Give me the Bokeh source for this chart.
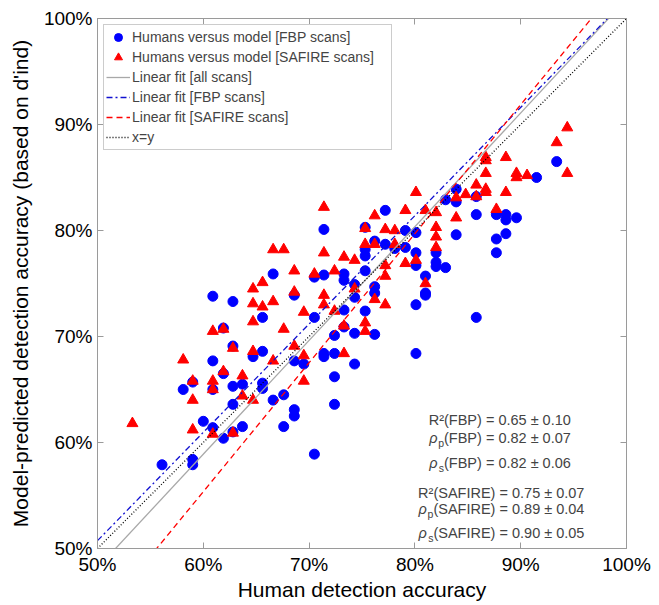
from bokeh.plotting import figure
from bokeh.models import (ColumnDataSource, Label, LinearAxis, FixedTicker,
                          PrintfTickFormatter, Range1d, Legend, LegendItem)
from bokeh.embed import file_html
from bokeh.resources import INLINE

# ---------------- data ----------------
fbp_x = [56.1, 58.1, 59.0, 59.0, 59.0, 60.0,
         60.9, 60.9, 60.9, 60.9, 61.9, 61.9, 61.9,
         62.8, 62.8, 62.8, 62.8, 62.8, 63.7, 63.7, 64.7,
         65.6, 65.6, 65.6, 65.6, 66.6, 66.6, 67.6, 67.6,
         68.6, 68.6, 68.6, 68.6, 69.5, 70.5, 70.5, 70.5,
         71.4, 71.4, 71.4, 71.4, 72.4, 72.4, 72.4, 72.4,
         73.3, 73.3, 73.3, 73.3, 74.3, 74.3, 74.3, 74.3,
         75.3, 75.3, 75.3, 75.3, 75.3, 76.2, 76.2, 76.2, 76.2,
         77.2, 77.2, 78.1, 79.1, 79.1,
         80.1, 80.1, 80.1, 80.1, 80.1, 81.0, 81.0, 81.0,
         82.0, 82.0, 82.0, 82.9, 82.9, 83.9, 83.9, 83.9,
         85.8, 85.8, 85.8, 87.7, 87.7, 87.7, 88.6, 88.6, 88.6,
         89.6, 91.5, 93.4]
fbp_y = [57.9, 65.0, 65.7, 58.4, 57.9, 62.0,
         73.8, 67.7, 65.0, 61.4, 70.8, 66.5, 60.4,
         73.3, 69.1, 65.3, 63.6, 61.0, 65.5, 61.5, 68.1,
         71.8, 68.6, 65.6, 65.1, 75.9, 64.0, 64.5, 61.5,
         73.9, 67.7, 63.1, 62.5, 67.4, 75.6, 71.8, 58.9,
         80.1, 75.8, 68.4, 68.1, 70.1, 68.4, 66.2, 63.6,
         75.9, 75.3, 72.5, 70.9, 74.9, 73.7, 70.3, 67.4,
         80.3, 78.2, 77.6, 76.2, 72.4, 79.0, 74.7, 74.1, 70.2,
         81.9, 78.7, 78.3, 80.0, 78.4,
         79.8, 77.9, 76.7, 73.0, 68.4, 75.7, 74.1, 73.9,
         77.9, 77.0, 76.6, 82.9, 76.5, 83.9, 82.7, 79.6,
         83.2, 81.5, 71.8, 81.5, 79.2, 77.9, 81.5, 81.0, 79.7,
         81.2, 85.0, 86.5]

saf_x = [53.3, 58.1, 59.0, 59.0, 59.0,
         60.9, 60.9, 60.9, 60.9, 61.9, 61.9, 62.8, 62.8, 63.7, 63.7,
         64.7, 64.7, 64.7, 64.7, 64.7, 65.6, 65.6, 66.6, 66.6, 66.6,
         67.6, 67.6, 68.6, 68.6, 68.6, 69.5, 69.5, 69.5, 70.5,
         71.4, 71.4, 71.4, 71.4, 72.4, 72.4, 73.3, 73.3, 73.3,
         74.3, 74.3, 75.3, 75.3, 75.3, 75.3, 76.2, 76.2, 76.2,
         77.2, 77.2, 77.2, 77.2, 78.1, 78.1, 79.1, 79.1, 80.1, 80.1,
         81.0, 81.0, 82.0, 82.0, 82.0, 82.0, 83.9, 83.9, 84.8,
         85.8, 85.8, 86.7, 86.7, 86.7, 86.7, 86.7, 87.7, 88.6, 88.6,
         89.6, 89.6, 90.6, 93.4, 94.4, 94.4]
saf_y = [61.8, 67.8, 65.8, 64.0, 61.2,
         70.5, 65.8, 65.0, 60.8, 70.7, 66.7, 68.9, 60.9, 66.3, 64.4,
         74.5, 73.1, 71.4, 68.6, 64.0, 75.1, 72.8, 78.2, 73.3, 67.7,
         78.2, 70.7, 76.2, 74.2, 69.1, 72.3, 68.2, 65.8, 75.9,
         82.2, 77.9, 73.9, 73.0, 76.2, 72.4, 77.5, 71.0, 68.4,
         77.2, 74.5, 80.2, 78.7, 71.3, 70.5, 81.4, 78.7, 73.5,
         80.1, 76.7, 75.7, 73.0, 80.0, 78.7, 81.9, 76.9, 83.6, 77.2,
         81.9, 75.0, 81.7, 80.3, 79.4, 78.4, 83.1, 81.2, 83.4,
         84.3, 83.2, 86.9, 86.6, 85.4, 83.9, 83.6, 82.0, 86.9, 83.6,
         85.4, 85.0, 85.2, 88.3, 89.7, 85.4]

# linear fits: [all scans, FBP, SAFIRE]
fit_slope = [1.073, 1.022, 1.217]
fit_intercept = [-5.48, -0.36, -17.66]
fit_span = [50, 100]

ticks = [50, 60, 70, 80, 90, 100]
stat_names = ["FBP", "SAFIRE"]
stat_r2 = ["0.65 ± 0.10", "0.75 ± 0.07"]
stat_rp = ["0.82 ± 0.07", "0.89 ± 0.04"]
stat_rs = ["0.82 ± 0.06", "0.90 ± 0.05"]

FONT = "Liberation Sans"
AXC = "#9a9a9a"

p = figure(frame_width=529, frame_height=530,
           min_border_left=97, min_border_right=30, min_border_top=18,
           min_border_bottom=40,
           x_range=Range1d(50, 100), y_range=Range1d(50, 100),
           output_backend="svg", toolbar_location=None)
p.xgrid.visible = False
p.ygrid.visible = False
p.outline_line_color = AXC
p.background_fill_color = "white"
p.border_fill_color = "white"

for ax in (p.xaxis[0], p.yaxis[0]):
    ax.ticker = FixedTicker(ticks=ticks)
    ax.formatter = PrintfTickFormatter(format="%d%%")
    ax.major_label_text_font = FONT
    ax.major_label_text_font_size = "19px"
    ax.major_label_text_color = "black"
    ax.axis_line_color = AXC
    ax.major_tick_line_color = AXC
    ax.major_tick_in = 6
    ax.major_tick_out = 0
    ax.minor_tick_line_color = None
    ax.major_label_standoff = 5
    ax.axis_label_text_font = FONT
    ax.axis_label_text_font_size = "21px"
    ax.axis_label_text_font_style = "normal"
    ax.axis_label_text_color = "black"

p.xaxis.axis_label = "Human detection accuracy"
p.xaxis.axis_label_standoff = 0
p.yaxis.axis_label = "Model-predicted detection accuracy (based on d'ind)"
p.yaxis.axis_label_standoff = 9

# mirrored inward ticks on the top and right (minor ticks only, no labels)
for loc in ("above", "right"):
    ax = LinearAxis(ticker=FixedTicker(ticks=[], minor_ticks=ticks),
                    axis_line_color=AXC, major_tick_line_color=None,
                    minor_tick_line_color=AXC, minor_tick_in=6,
                    minor_tick_out=0, major_label_standoff=0)
    p.add_layout(ax, loc)

src_fbp = ColumnDataSource(dict(x=fbp_x, y=fbp_y))
src_saf = ColumnDataSource(dict(x=saf_x, y=saf_y))
r_fbp = p.scatter("x", "y", source=src_fbp, marker="circle", size=10,
                  fill_color="#0000ff", line_color="#0000ff")
r_saf = p.scatter("x", "y", source=src_saf, marker="triangle", size=11,
                  fill_color="#ff0000", line_color="#ff0000")

styles = [dict(line_color="#a8a8a8", line_dash="solid"),
          dict(line_color="#1010d0", line_dash="6 3 2 3"),
          dict(line_color="#ff0000", line_dash="6 4")]
fit_r = []
for s, b, st in zip(fit_slope, fit_intercept, styles):
    ys = [s * xv + b for xv in fit_span]
    fit_r.append(p.line(fit_span, ys, line_width=1.3, **st))
r_xy = p.line(fit_span, fit_span, line_color="black", line_width=1.3,
              line_dash="1 2")

legend = Legend(items=[
    LegendItem(label="Humans versus model [FBP scans]", renderers=[r_fbp]),
    LegendItem(label="Humans versus model [SAFIRE scans]", renderers=[r_saf]),
    LegendItem(label="Linear fit [all scans]", renderers=[fit_r[0]]),
    LegendItem(label="Linear fit [FBP scans]", renderers=[fit_r[1]]),
    LegendItem(label="Linear fit [SAFIRE scans]", renderers=[fit_r[2]]),
    LegendItem(label="x=y", renderers=[r_xy]),
], location="top_left", margin=6, padding=2, spacing=0,
    label_text_font=FONT, label_text_font_size="14px",
    glyph_width=24, glyph_height=20, label_height=20, label_standoff=2,
    label_width=257,
    border_line_color=AXC, background_fill_color="white",
    background_fill_alpha=1.0)
p.add_layout(legend)

# ---------- statistics text block (bottom right) ----------
ann_size = "14.5px"
sub_size = "10.5px"
x_open = [82.75, 81.75]          # data x where "(" begins
y_rows = [[62.08, 60.38, 58.02], [55.28, 53.68, 51.42]]
for i in range(2):
    xo = x_open[i]
    y1, y2, y3 = y_rows[i]
    rows = [(y1, "R²", None, stat_r2[i]), (y2, "ρ", "p", stat_rp[i]),
            (y3, "ρ", "s", stat_rs[i])]
    for (yy, pre, sub, val) in rows:
        p.add_layout(Label(x=xo, y=yy, text="(%s) = %s" % (stat_names[i], val),
                           text_font=FONT, text_font_size=ann_size,
                           text_align="left", text_baseline="middle"))
        if sub is None:
            p.add_layout(Label(x=xo, y=yy, text=pre, text_font=FONT,
                               text_font_size=ann_size, text_align="right",
                               text_baseline="middle"))
        else:
            p.add_layout(Label(x=xo, y=yy, y_offset=-5, text=sub, text_font=FONT,
                               text_font_size=sub_size, text_align="right",
                               text_baseline="middle"))
            p.add_layout(Label(x=xo, y=yy, x_offset=-6.5, text=pre, text_font=FONT,
                               text_font_size=ann_size, text_align="right",
                               text_baseline="middle", text_font_style="italic"))

open("out.html", "w").write(file_html(p, INLINE))
